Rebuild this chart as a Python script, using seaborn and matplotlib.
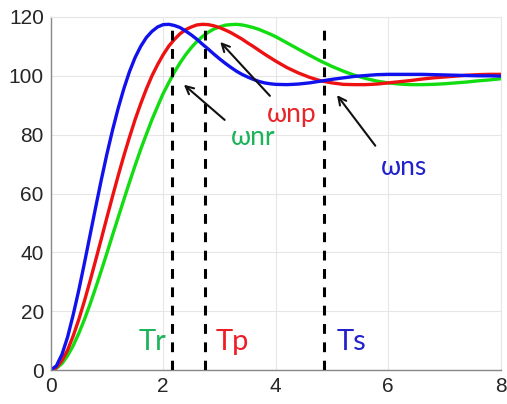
import seaborn as sns
import matplotlib.pyplot as plt
import pandas as pd

time = [round(0.1 * i, 1) for i in range(41)] + [round(4.2 + 0.2 * i, 1) for i in range(20)]
green_resp = [0, 0.6, 2.2, 4.9, 8.3, 12.5, 17.2, 22.4, 28.0, 33.8, 39.8, 45.9, 51.9, 57.9, 63.8,
              69.5, 75.0, 80.1, 85.1, 89.6, 94.0, 97.7, 101.3, 104.4, 107.2, 109.6, 111.7, 113.4,
              114.8, 115.9, 116.6, 117.2, 117.4, 117.5, 117.3, 116.9, 116.4, 115.8, 115.0, 114.2, 113.3,
              111.2, 109.1, 107.0, 105.0, 103.2, 101.6, 100.2, 99.1, 98.2, 97.6, 97.2, 97.0, 97.0,
              97.1, 97.3, 97.6, 97.9, 98.3, 98.6, 99.0]
red_resp = [0, 0.8, 3.2, 6.8, 11.6, 17.2, 23.5, 30.3, 37.4, 44.6, 51.9, 59.1, 66.1, 72.8, 79.1,
            85.1, 90.5, 95.5, 100.0, 103.8, 107.2, 110.1, 112.4, 114.3, 115.7, 116.6, 117.3, 117.5,
            117.4, 117.0, 116.4, 115.6, 114.7, 113.6, 112.5, 111.2, 110.0, 108.7, 107.4, 106.2, 105.0,
            102.8, 101.0, 99.5, 98.3, 97.6, 97.1, 97.0, 97.0, 97.2, 97.6, 98.0, 98.4, 98.9, 99.3,
            99.6, 99.9, 100.2, 100.4, 100.5, 100.5]
blue_resp = [0, 1.4, 5.3, 11.2, 18.8, 27.2, 36.4, 45.9, 55.4, 64.7, 73.5, 81.6, 89.0, 95.6, 101.4,
             106.2, 110.0, 113.0, 115.1, 116.6, 117.4, 117.5, 117.1, 116.4, 115.2, 113.9, 112.4,
             110.7, 109.1, 107.4, 105.8, 104.3, 102.9, 101.6, 100.5, 99.6, 98.8, 98.1, 97.6, 97.3, 97.1,
             97.0, 97.2, 97.6, 98.2, 98.8, 99.3, 99.8, 100.1, 100.4, 100.5, 100.5, 100.5, 100.5,
             100.4, 100.3, 100.2, 100.1, 100.0, 100.0, 99.9]

series = ['green', 'red', 'blue']
line_colors = ['#11dd11', '#ee1111', '#1111ee']
marker_times = [2.15, 2.74, 4.86]   # Tr, Tp, Ts
marker_top = 118

n = len(time)
df = pd.DataFrame({
    't': time * 3,
    'y': green_resp + red_resp + blue_resp,
    's': ['green'] * n + ['red'] * n + ['blue'] * n,
})

sns.set_style('white')
plt.rcParams['font.family'] = ['Liberation Sans', 'DejaVu Sans']

fig = plt.figure(figsize=(5.07, 4.04), dpi=100)
ax = fig.add_axes([0.1, 0.084, 0.8876, 0.874])

ax.grid(True, color='#e6e6e6', lw=0.8)
ax.set_axisbelow(True)

sns.lineplot(data=df, x='t', y='y', hue='s', hue_order=series, palette=line_colors,
             lw=2.4, legend=False, ax=ax, solid_joinstyle='round')

ax.vlines(marker_times, 0, marker_top, colors='black', lw=2.2, linestyles=(0, (3.2, 2.8)), zorder=4)

ax.set_xlim(0, 8)
ax.set_ylim(0, 120)
ax.set_xticks([0, 2, 4, 6, 8])
ax.set_yticks([0, 20, 40, 60, 80, 100, 120])
ax.set_xlabel('')
ax.set_ylabel('')
ax.tick_params(direction='in', length=4, width=0.8, color='#888888', labelsize=15,
               labelcolor='#262626', pad=5)
for side in ['left', 'bottom']:
    ax.spines[side].set_color('#888888')
    ax.spines[side].set_linewidth(1.0)
for side in ['top', 'right']:
    ax.spines[side].set_color('#e6e6e6')
    ax.spines[side].set_linewidth(0.8)

arrow = dict(arrowstyle='->', lw=1.5, color='#111111', mutation_scale=14)
ax.annotate('', xy=(2.33, 97.6), xytext=(3.13, 84.4), arrowprops=arrow, zorder=5)
ax.annotate('', xy=(2.98, 112.2), xytext=(3.93, 92.5), arrowprops=arrow, zorder=5)
ax.annotate('', xy=(5.06, 94.2), xytext=(5.8, 75.5), arrowprops=arrow, zorder=5)

lab = dict(family=['Lato', 'DejaVu Sans'], va='baseline', ha='left')
ax.text(3.2, 76.5, 'ωnr', color='#1db35a', fontsize=19, **lab)
ax.text(3.84, 84.4, 'ωnp', color='#e8262a', fontsize=19, **lab)
ax.text(5.87, 66.3, 'ωns', color='#2222cc', fontsize=19, **lab)
ax.text(1.57, 6.8, 'Tr', color='#1db35a', fontsize=21, **lab)
ax.text(2.94, 6.8, 'Tp', color='#ee1c24', fontsize=21, **lab)
ax.text(5.08, 6.8, 'Ts', color='#2222cc', fontsize=21, **lab)

fig.savefig('out.png', dpi=100)
